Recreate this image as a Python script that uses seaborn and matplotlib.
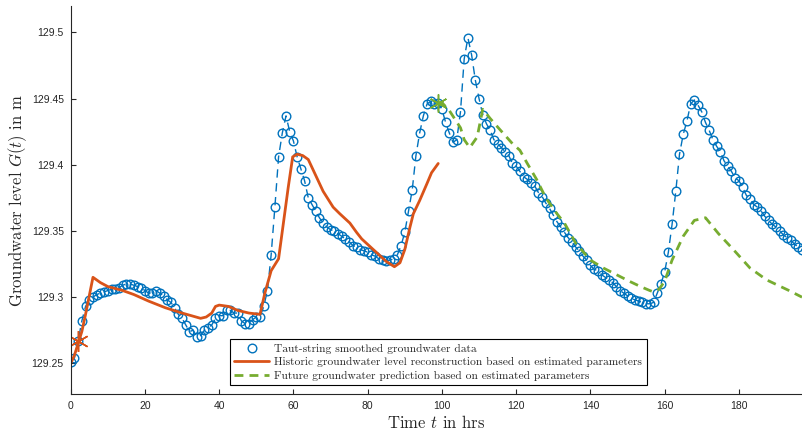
import numpy as np
import pandas as pd
import matplotlib
matplotlib.use("Agg")
import matplotlib.pyplot as plt
import seaborn as sns

# ---------------- data ----------------
obs_t = list(range(0, 198))
obs_g = [
    129.251, 129.254, 129.267, 129.282, 129.293, 129.298, 129.300, 129.302, 129.303, 129.304,
    129.305, 129.306, 129.306, 129.307, 129.309, 129.310, 129.310, 129.309, 129.308, 129.307,
    129.305, 129.303, 129.303, 129.305, 129.303, 129.301, 129.298, 129.296, 129.292, 129.287,
    129.284, 129.279, 129.274, 129.275, 129.270, 129.271, 129.275, 129.277, 129.279, 129.284,
    129.286, 129.286, 129.290, 129.290, 129.288, 129.288, 129.282, 129.280, 129.280, 129.283,
    129.285, 129.285, 129.293, 129.305, 129.332, 129.368, 129.406, 129.424, 129.437, 129.425,
    129.418, 129.406, 129.397, 129.388, 129.375, 129.370, 129.365, 129.360, 129.356, 129.353,
    129.351, 129.350, 129.348, 129.346, 129.344, 129.342, 129.339, 129.338, 129.336, 129.335,
    129.334, 129.332, 129.331, 129.329, 129.328, 129.327, 129.328, 129.329, 129.332, 129.339,
    129.349, 129.365, 129.381, 129.407, 129.424, 129.437, 129.446, 129.448, 129.446, 129.447,
    129.442, 129.432, 129.424, 129.417, 129.419, 129.440, 129.480, 129.496, 129.483, 129.464,
    129.450, 129.438, 129.431, 129.426, 129.419, 129.416, 129.413, 129.410, 129.407, 129.401,
    129.399, 129.395, 129.391, 129.389, 129.386, 129.384, 129.379, 129.376, 129.371, 129.367,
    129.362, 129.357, 129.353, 129.349, 129.345, 129.342, 129.338, 129.335, 129.331, 129.328,
    129.324, 129.321, 129.320, 129.317, 129.315, 129.313, 129.311, 129.308, 129.305, 129.303,
    129.301, 129.299, 129.298, 129.297, 129.296, 129.295, 129.295, 129.296, 129.303, 129.310,
    129.319, 129.334, 129.355, 129.380, 129.408, 129.423, 129.433, 129.446, 129.449, 129.445,
    129.440, 129.432, 129.426, 129.419, 129.414, 129.410, 129.403, 129.399, 129.395, 129.390,
    129.388, 129.383, 129.377, 129.374, 129.370, 129.368, 129.365, 129.361, 129.358, 129.355,
    129.353, 129.350, 129.347, 129.345, 129.343, 129.340, 129.338, 129.336,
]

hist_t = [0, 1, 2, 3, 4, 5, 6, 8, 10, 14, 17, 21, 25.5, 30, 35, 36.5, 38, 39, 40, 42.5,
          45, 48, 51, 52.3, 54, 56, 57.3, 58.6, 59.8, 61, 62.5, 64, 66, 68, 70.7, 72.5,
          75.2, 77, 78.4, 81.5, 85, 87.2, 88.7, 90, 91.4, 92.3, 94, 96, 97.2, 99]
hist_g = [129.250, 129.256, 129.265, 129.274, 129.287, 129.301, 129.315, 129.311, 129.308,
          129.305, 129.302, 129.297, 129.292, 129.288, 129.284, 129.285, 129.288, 129.293,
          129.294, 129.293, 129.290, 129.288, 129.287, 129.303, 129.320, 129.329, 129.356,
          129.383, 129.406, 129.408, 129.407, 129.404, 129.392, 129.380, 129.368, 129.363,
          129.356, 129.349, 129.344, 129.336, 129.327, 129.323, 129.326, 129.336, 129.353,
          129.363, 129.373, 129.386, 129.394, 129.401]

pred_t = [99, 100, 102, 105, 106, 107.5, 109.5, 111, 113, 115.5, 119, 121, 123, 125.5, 128,
          131, 133, 136, 140, 143.5, 147, 150.5, 153.5, 156, 157, 158.5, 160, 162, 165, 168,
          171, 174.5, 178.5, 183, 187.5, 193.5, 197]
pred_g = [129.447, 129.447, 129.441, 129.428, 129.419, 129.413, 129.421, 129.442, 129.435,
          129.427, 129.416, 129.411, 129.401, 129.389, 129.375, 129.363, 129.356, 129.341,
          129.328, 129.322, 129.317, 129.312, 129.308, 129.305, 129.304, 129.306, 129.312,
          129.328, 129.346, 129.358, 129.360, 129.348, 129.336, 129.322, 129.313, 129.305,
          129.300]

start_hist = (2, 129.267)
start_pred = (99, 129.447)

x_ticks = [0, 20, 40, 60, 80, 100, 120, 140, 160, 180]
y_ticks = [129.25, 129.30, 129.35, 129.40, 129.45, 129.50]
y_tick_labels = ["129.25", "129.3", "129.35", "129.4", "129.45", "129.5"]

labels = ["Taut-string smoothed groundwater data",
          "Historic groundwater level reconstruction based on estimated parameters",
          "Future groundwater prediction based on estimated parameters"]

# ---------------- style ----------------
sns.set_theme(style="white")
plt.rcParams["font.family"] = ["cmr10", "DejaVu Serif"]
plt.rcParams["mathtext.fontset"] = "cm"
plt.rcParams["axes.formatter.use_mathtext"] = True

blue = "#0072BD"
orange = "#D95319"
green = "#77AC30"
axcol = "#262626"

fig = plt.figure(figsize=(8.02, 4.34), dpi=100)
ax = fig.add_axes([70.7 / 802, 39.7 / 434, (802 - 70.7) / 802, 388.3 / 434])

df_obs = pd.DataFrame({"t": obs_t, "g": obs_g})
df_hist = pd.DataFrame({"t": hist_t, "g": hist_g})
df_pred = pd.DataFrame({"t": pred_t, "g": pred_g})

# dashed connecting line for the smoothed data (not in legend)
sns.lineplot(data=df_obs, x="t", y="g", ax=ax, color=blue, linestyle=(0, (6, 4)),
             linewidth=1.0, sort=False, label="_nolegend_")
# circle markers (legend entry shows only the marker)
sns.lineplot(data=df_obs, x="t", y="g", ax=ax, color=blue, linestyle="none",
             marker="o", markersize=6.2, markerfacecolor="none",
             markeredgecolor=blue, markeredgewidth=1.0, label=labels[0], sort=False)
sns.lineplot(data=df_hist, x="t", y="g", ax=ax, color=orange, linewidth=2.0,
             label=labels[1], sort=False)
sns.lineplot(data=df_pred, x="t", y="g", ax=ax, color=green, linewidth=2.0,
             linestyle=(0, (3.2, 2.2)), label=labels[2], sort=False)

ax.plot([start_hist[0]], [start_hist[1]], marker=(6, 2, 0), markersize=15,
        color=orange, markeredgewidth=1.1, linestyle="none", label="_nolegend_")
ax.plot([start_pred[0]], [start_pred[1]], marker=(6, 2, 0), markersize=13,
        color=green, markeredgewidth=1.1, linestyle="none", label="_nolegend_")

ax.set_xlim(0, 197)
ax.set_ylim(129.2266, 129.52)
ax.set_xticks(x_ticks)
ax.set_xticklabels([str(v) for v in x_ticks])
ax.set_yticks(y_ticks)
ax.set_yticklabels(y_tick_labels)

for lab in ax.get_xticklabels() + ax.get_yticklabels():
    lab.set_fontfamily("Liberation Sans")
    lab.set_fontsize(7.5)
    lab.set_color(axcol)

ax.tick_params(axis="both", direction="in", length=3.8, width=0.8, colors=axcol,
               labelcolor=axcol, bottom=True, left=True, pad=5)

for s in ["top", "right"]:
    ax.spines[s].set_visible(False)
for s in ["left", "bottom"]:
    ax.spines[s].set_color(axcol)
    ax.spines[s].set_linewidth(0.8)

ax.set_xlabel("Time $t$ in hrs", fontsize=12, color=axcol, labelpad=2)
ax.set_ylabel("Groundwater level $G(t)$ in m", fontsize=12, color=axcol, labelpad=2)

leg = ax.legend(loc="lower left", bbox_to_anchor=(0.2178, 0.024), fontsize=8.25,
                frameon=True, fancybox=False, edgecolor="black", framealpha=1,
                handlelength=3.0, handletextpad=0.5, borderpad=0.38,
                labelspacing=0.3, borderaxespad=0)
leg.get_frame().set_linewidth(0.8)
for t in leg.get_texts():
    t.set_color(axcol)

fig.savefig("out.png", dpi=100)
